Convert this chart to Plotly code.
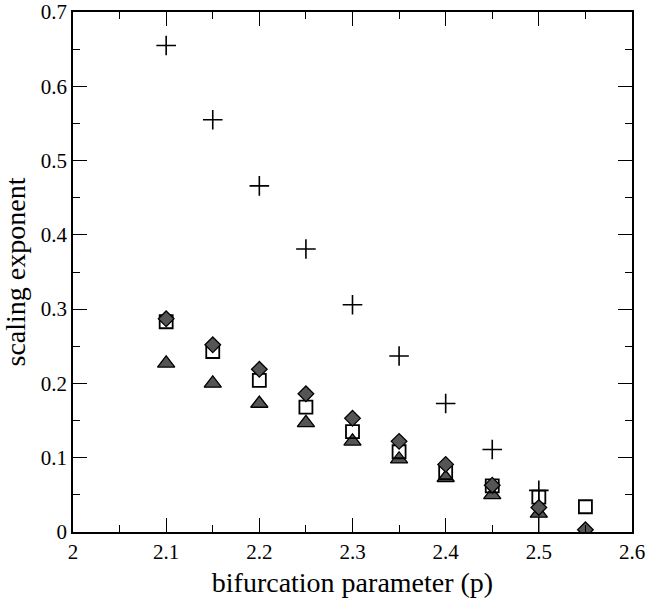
import plotly.graph_objects as go

p = [2.1, 2.15, 2.2, 2.25, 2.3, 2.35, 2.4, 2.45, 2.5, 2.55]
plus_vals = [0.655, 0.555, 0.466, 0.381, 0.306, 0.237, 0.173, 0.111, 0.056]
diamond_vals = [0.287, 0.252, 0.219, 0.186, 0.153, 0.122, 0.091, 0.063, 0.033, 0.003]
square_vals = [0.283, 0.243, 0.204, 0.168, 0.135, 0.108, 0.080, 0.062, 0.047, 0.034]
triangle_vals = [0.227, 0.200, 0.173, 0.147, 0.122, 0.098, 0.073, 0.050, 0.025, 0.000]
plus_err_minus = [0, 0, 0, 0, 0, 0, 0, 0, 0.056]

fig = go.Figure()
fig.add_trace(go.Scatter(
    x=p[:len(plus_vals)], y=plus_vals, mode="markers",
    marker=dict(symbol="cross-thin", size=14, line=dict(color="black", width=1.6)),
    error_y=dict(type="data", symmetric=False, array=[0]*len(plus_vals),
                 arrayminus=plus_err_minus, color="black", thickness=1.3, width=0),
    showlegend=False))
fig.add_trace(go.Scatter(
    x=p, y=triangle_vals, mode="markers",
    marker=dict(symbol="triangle-up", size=15, color="#555555",
                line=dict(color="black", width=1.3)),
    showlegend=False))
fig.add_trace(go.Scatter(
    x=p, y=square_vals, mode="markers",
    marker=dict(symbol="square-open", size=13, color="black",
                line=dict(color="black", width=1.8)),
    showlegend=False))
fig.add_trace(go.Scatter(
    x=p, y=diamond_vals, mode="markers",
    marker=dict(symbol="diamond", size=12, color="#555555",
                line=dict(color="black", width=1.3)),
    showlegend=False))

axis_common = dict(
    showline=True, linecolor="black", linewidth=1.5, mirror="ticks",
    ticks="inside", ticklen=14, tickwidth=1.3, tickcolor="black",
    showgrid=False, zeroline=False, automargin=False,
    tickfont=dict(family="Liberation Serif", size=21, color="black"),
)

fig.update_xaxes(range=[2, 2.6], dtick=0.1, tick0=2, tickformat=".1~f",
                 title=dict(text="bifurcation parameter (p)", standoff=9,
                            font=dict(family="Liberation Serif", size=28, color="black")),
                 minor=dict(dtick=0.05, ticks="inside", ticklen=7, tickwidth=1.3,
                            tickcolor="black", showgrid=False),
                 **axis_common)
fig.update_yaxes(range=[0, 0.7], dtick=0.1, tick0=0, tickformat=".1~f",
                 title=dict(text="scaling exponent", standoff=7,
                            font=dict(family="Liberation Serif", size=28, color="black")),
                 minor=dict(dtick=0.05, ticks="inside", ticklen=7, tickwidth=1.3,
                            tickcolor="black", showgrid=False),
                 **axis_common)

fig.update_layout(
    width=649, height=607,
    margin=dict(l=73, r=17, t=12, b=75),
    plot_bgcolor="white", paper_bgcolor="white",
)

fig.write_html("out.html")
